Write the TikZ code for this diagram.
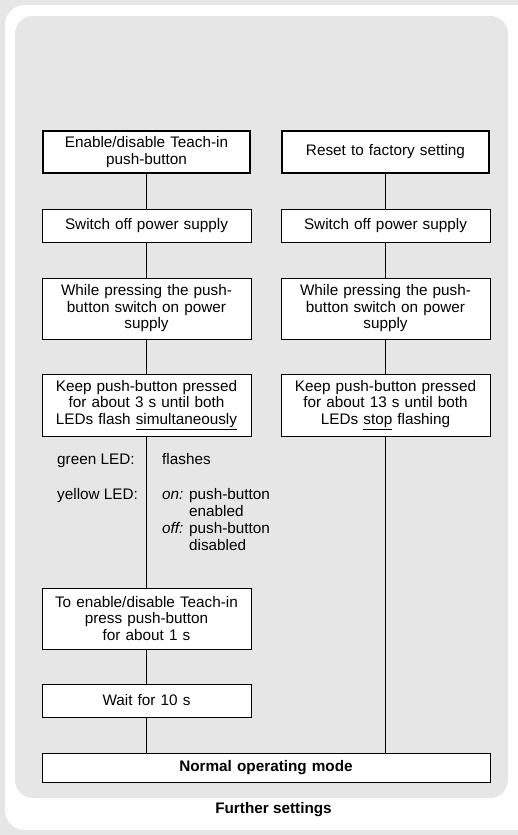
\documentclass[tikz,border=0pt]{standalone}
\usepackage{fontspec}
\setmainfont{Liberation Sans}
\usepackage{xcolor}
\usetikzlibrary{positioning}
\definecolor{panelgray}{HTML}{E6E6E6}

\begin{document}
\begin{tikzpicture}[
    x=1pt, y=-1pt,
    font=\fontsize{15.3}{16.5}\selectfont,
    box/.style={draw, fill=white, line width=0.8pt, inner sep=0pt, minimum width=209pt, text width=201pt, align=center},
    headbox/.style={box, line width=1.8pt, minimum width=207pt, text width=199pt},
    wire/.style={line width=0.8pt},
    note/.style={anchor=base west, inner sep=0pt}
]
\useasboundingbox (0,0) rectangle (518,835);

% Frame
\fill[panelgray] (0,0) rectangle (518,835);
\fill[white, rounded corners=20pt] (5,5) rectangle (540,830);
\fill[panelgray, rounded corners=18pt] (15,16) rectangle (508,798);

% Left column: Teach-in push-button
\node[headbox, minimum height=42pt] (teach) at (146.5,152) {Enable/disable Teach-in\\push-button};
\node[box, minimum height=33pt] (offL) at (146.5,225.5) {Switch off power supply};
\node[box, minimum height=61pt] (pressL) at (146.5,308.5) {While pressing the push-\\button switch on power\\supply};
\node[box, minimum height=62pt] (keepL) at (146.5,405) {Keep push-button pressed\\for about 3 s until both\\LEDs flash \underline{simultaneously}};
\node[box, minimum height=61pt] (toggle) at (146.5,618.5) {To enable/disable Teach-in\\press push-button\\for about 1 s};
\node[box, minimum height=33pt] (wait) at (146.5,700.5) {Wait for 10 s};

% LED states
\node[note] (green) at (57,464) {green LED:};
\node[note] (flash) at (162,464) {flashes};
\node[note] (yellow) at (57,499) {yellow LED:};
\node[note] (state) at (162,499) {\renewcommand\arraystretch{1.05}%
  \begin{tabular}[t]{@{}l@{ }l@{}}
  \textit{on:} & push-button\\
   & enabled\\
  \textit{off:} & push-button\\
   & disabled
  \end{tabular}};

% Right column: factory reset
\node[headbox, minimum height=42pt] (reset) at (385.5,152) {Reset to factory setting};
\node[box, minimum height=33pt] (offR) at (385.5,225.5) {Switch off power supply};
\node[box, minimum height=61pt] (pressR) at (385.5,308.5) {While pressing the push-\\button switch on power\\supply};
\node[box, minimum height=62pt] (keepR) at (385.5,405) {Keep push-button pressed\\for about 13 s until both\\LEDs \underline{stop} flashing};

% Common end
\node[box, minimum width=448pt, text width=440pt, minimum height=29pt, font=\fontsize{15.3}{16.5}\selectfont\bfseries] (normal) at (266,767.5) {Normal operating mode};
\node[font=\fontsize{15.3}{16.5}\selectfont\bfseries] (caption) at (273.5,810) {Further settings};

% Connectors
\draw[wire] (teach) -- (offL);
\draw[wire] (offL) -- (pressL);
\draw[wire] (pressL) -- (keepL);
\draw[wire] (keepL) -- (toggle);
\draw[wire] (toggle) -- (wait);
\draw[wire] (wait.south) -- (wait.south |- normal.north);

\draw[wire] (reset) -- (offR);
\draw[wire] (offR) -- (pressR);
\draw[wire] (pressR) -- (keepR);
\draw[wire] (keepR.south) -- (keepR.south |- normal.north);
\end{tikzpicture}
\end{document}
